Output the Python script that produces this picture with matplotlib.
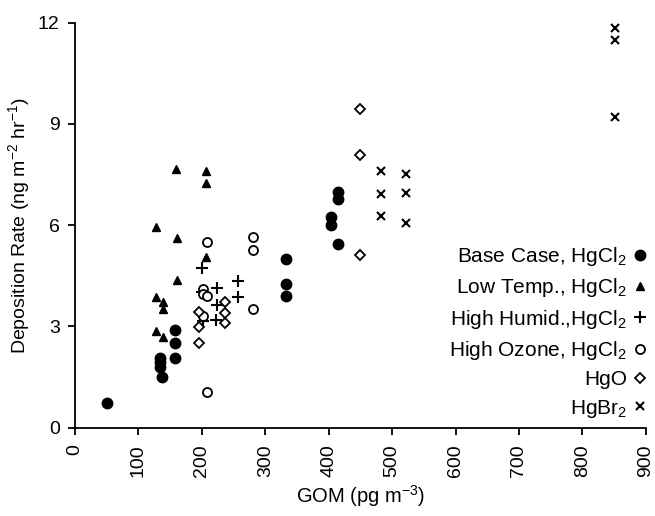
import matplotlib
matplotlib.use("Agg")
import matplotlib.pyplot as plt

plt.rcParams["font.family"] = ["Liberation Sans", "DejaVu Sans"]
plt.rcParams["mathtext.default"] = "regular"

# GOM (pg m-3) vs deposition rate (ng m-2 hr-1)
base_x = [51, 134, 134, 134, 137, 157, 157, 157, 332, 332, 332, 403, 403, 414, 414, 414]
base_y = [0.74, 2.06, 1.96, 1.81, 1.49, 2.89, 2.52, 2.06, 5.0, 4.25, 3.9, 6.25, 6.0, 6.99, 6.79, 5.44]

low_x = [160, 207, 207, 127, 161, 207, 161, 127, 139, 139, 127, 139]
low_y = [7.66, 7.6, 7.26, 5.96, 5.62, 5.07, 4.38, 3.88, 3.72, 3.53, 2.87, 2.68]

humid_x = [201, 201, 224, 257, 257, 224, 202, 223]
humid_y = [4.72, 4.03, 4.13, 4.36, 3.88, 3.64, 3.17, 3.19]

ozone_x = [208, 280, 280, 202, 202, 208, 280, 202, 208]
ozone_y = [5.5, 5.64, 5.26, 4.11, 3.96, 3.9, 3.51, 3.31, 1.07]

hgo_x = [196, 196, 196, 236, 236, 236, 450, 450, 450]
hgo_y = [3.42, 2.99, 2.5, 3.72, 3.39, 3.09, 9.45, 8.07, 5.13]

hgbr_x = [482, 482, 482, 522, 522, 522, 852, 852, 852]
hgbr_y = [7.61, 6.92, 6.27, 7.52, 6.96, 6.07, 11.83, 11.5, 9.21]

fig = plt.figure(figsize=(6.55, 5.16), dpi=100)
ax = fig.add_axes([0.1145, 0.171, 0.8715, 0.785])

ax.plot(base_x, base_y, "o", color="black", ms=7.5, ls="none",
        label="Base Case, HgCl$_2$")
ax.plot(low_x, low_y, "^", color="black", ms=6, ls="none",
        label="Low Temp., HgCl$_2$")
ax.plot(humid_x, humid_y, "+", color="black", ms=9, mew=1.5, ls="none",
        label="High Humid.,HgCl$_2$")
ax.plot(ozone_x, ozone_y, "o", mfc="white", mec="black", ms=6.5, mew=1.3, ls="none",
        label="High Ozone, HgCl$_2$")
ax.plot(hgo_x, hgo_y, "D", mfc="white", mec="black", ms=5.5, mew=1.3, ls="none",
        label="HgO")
ax.plot(hgbr_x, hgbr_y, "x", color="black", ms=6, mew=1.5, ls="none",
        label="HgBr$_2$")

ax.set_xlim(0, 900)
ax.set_ylim(0, 12)
ax.set_xticks(range(0, 901, 100))
ax.set_yticks([0, 3, 6, 9, 12])
ax.tick_params(axis="x", labelrotation=90, pad=7)
ax.tick_params(axis="y", pad=6)
ax.tick_params(direction="out", length=5, width=1.3, labelsize=14)
for s in ["top", "right"]:
    ax.spines[s].set_visible(False)
for s in ["left", "bottom"]:
    ax.spines[s].set_linewidth(1.3)

ax.set_xlabel("GOM (pg m$^{-3}$)", fontsize=14.5)
ax.set_ylabel("Deposition Rate (ng m$^{-2}$ hr$^{-1}$)", fontsize=14)

ax.legend(loc="lower right", bbox_to_anchor=(1.0, 0.02), frameon=False,
          markerfirst=False, fontsize=15, handlelength=0.6, handletextpad=0.3,
          labelspacing=0.4, borderaxespad=0.0, borderpad=0.0, alignment="right")

fig.savefig("out.png", dpi=100)
